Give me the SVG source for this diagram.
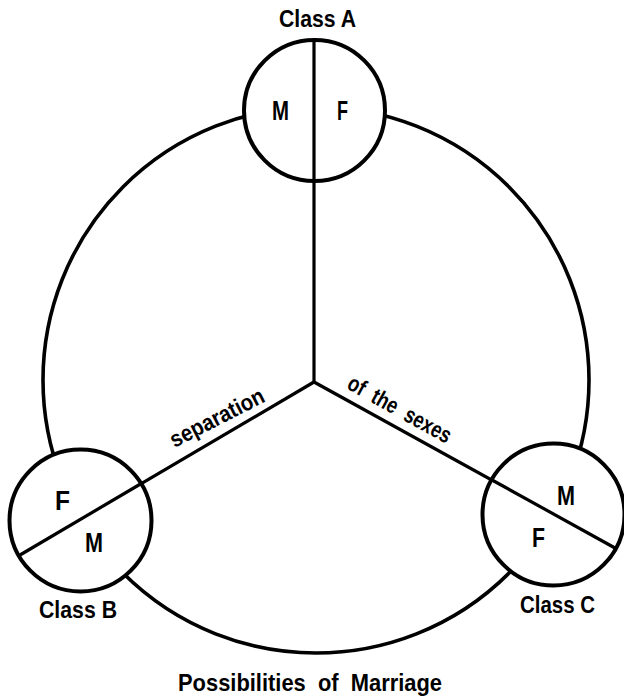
<svg xmlns="http://www.w3.org/2000/svg" width="624" height="698" viewBox="0 0 624 698">
<style>
.c{fill:#fff;stroke:#000;stroke-width:4}
.ln{stroke:#000;stroke-width:3.2;fill:none;stroke-linecap:butt}
.big{fill:none;stroke:#000;stroke-width:3.6}
text{font-family:"Liberation Sans",Arial,sans-serif;font-weight:bold;fill:#000}
.lab{font-size:24px;text-anchor:middle}
.mf{font-size:27px;text-anchor:middle}
.cap{font-size:23px;text-anchor:middle}
.pre{white-space:pre}
</style>
<rect width="624" height="698" fill="#fff"/>
<g id="marriage-circle">
<circle class="big" cx="316" cy="380" r="273"/>
</g>
<g id="connectors">
<line class="ln" x1="314" y1="40" x2="314" y2="382"/>
<line class="ln" x1="314" y1="382" x2="20" y2="555"/>
<line class="ln" x1="314" y1="382" x2="615" y2="548"/>
</g>
<g id="nodes">
<g id="node-a">
<circle class="c" cx="314.5" cy="110.5" r="70.5"/>
<line class="ln" x1="314" y1="40" x2="314" y2="181"/>
<text class="mf" x="280.5" y="120" textLength="17" lengthAdjust="spacingAndGlyphs">M</text>
<text class="mf" x="342.5" y="120" textLength="11" lengthAdjust="spacingAndGlyphs">F</text>
<text class="lab" x="317.5" y="27" textLength="77" lengthAdjust="spacingAndGlyphs">Class A</text>
</g>
<g id="node-b">
<circle class="c" cx="80.5" cy="520.5" r="71"/>
<line class="ln" x1="20" y1="555" x2="143" y2="482.5"/>
<text class="mf" x="62.5" y="510" textLength="15" lengthAdjust="spacingAndGlyphs">F</text>
<text class="mf" x="94" y="552" textLength="18" lengthAdjust="spacingAndGlyphs">M</text>
<text class="lab" x="78" y="618" textLength="78" lengthAdjust="spacingAndGlyphs">Class B</text>
</g>
<g id="node-c">
<circle class="c" cx="553.5" cy="514.5" r="71"/>
<line class="ln" x1="492" y1="480" x2="615" y2="548"/>
<text class="mf" x="566" y="505" textLength="18" lengthAdjust="spacingAndGlyphs">M</text>
<text class="mf" x="538.5" y="547" textLength="13" lengthAdjust="spacingAndGlyphs">F</text>
<text class="lab" x="557.5" y="613" textLength="75" lengthAdjust="spacingAndGlyphs">Class C</text>
</g>
</g>
<g id="labels">
<text class="cap" transform="translate(220.5,424.5) rotate(-27)" x="0" y="0" textLength="103" lengthAdjust="spacingAndGlyphs">separation</text>
<text class="cap pre" transform="translate(396,416) rotate(29)" x="0" y="0" textLength="115" lengthAdjust="spacingAndGlyphs">of  the  sexes</text>
<text class="lab pre" x="310" y="691" font-size="25" textLength="264" lengthAdjust="spacingAndGlyphs">Possibilities  of  Marriage</text>
</g>
</svg>
